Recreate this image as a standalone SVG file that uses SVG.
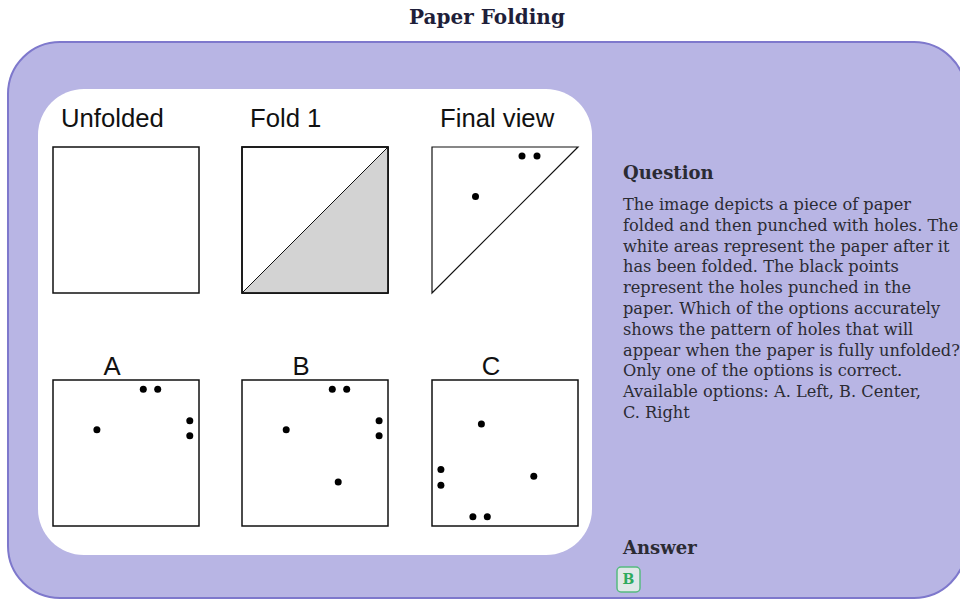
<svg xmlns="http://www.w3.org/2000/svg" width="960" height="600" viewBox="0 0 960 600">
<style>
.title{font-family:"DejaVu Serif",serif;font-weight:bold;font-size:20px;fill:#1f1f3a}
.h{font-family:"DejaVu Serif",serif;font-weight:bold;font-size:18px;fill:#2b2b33}
.body{font-family:"DejaVu Serif",serif;font-size:16.2px;fill:#2b2b33}
.lbl{font-family:"Liberation Sans",Arial,sans-serif;font-size:25.7px;fill:#111}
.box{fill:#fff;stroke:#111;stroke-width:1.5}
.dot{fill:#000}
</style>
<rect width="960" height="600" fill="#fff"/>
<text class="title" x="487" y="24" text-anchor="middle">Paper Folding</text>
<g id="panel">
<rect x="8" y="42" width="958" height="556" rx="52" ry="52" fill="#b8b5e4" stroke="#7e78cc" stroke-width="2"/>
</g>
<g id="figure">
<rect x="38" y="89" width="554" height="466" rx="46" ry="46" fill="#fff"/>
<g id="unfolded">
<text class="lbl" x="61" y="127">Unfolded</text>
<rect class="box" x="53" y="147" width="146" height="146"/>
</g>
<g id="fold1">
<text class="lbl" x="250" y="127">Fold 1</text>
<rect class="box" x="242" y="147" width="146" height="146"/>
<polygon points="242,293 388,147 388,293" fill="#d3d3d3" stroke="#111" stroke-width="1"/>
<rect x="242" y="147" width="146" height="146" fill="none" stroke="#111" stroke-width="1.5"/>
</g>
<g id="final">
<text class="lbl" x="440" y="127">Final view</text>
<polygon points="432,147 578,147 432,293" fill="#fff" stroke="#111" stroke-width="1.2"/>
<circle class="dot" cx="522" cy="156" r="3.5"/>
<circle class="dot" cx="537" cy="156" r="3.5"/>
<circle class="dot" cx="475.5" cy="196.5" r="3.5"/>
</g>
<g id="optA">
<text class="lbl" x="112" y="375" text-anchor="middle">A</text>
<rect class="box" x="53" y="380" width="146" height="146"/>
<circle class="dot" cx="143.3" cy="389.3" r="3.5"/>
<circle class="dot" cx="157.7" cy="389.3" r="3.5"/>
<circle class="dot" cx="96.9" cy="429.8" r="3.5"/>
<circle class="dot" cx="189.8" cy="420.8" r="3.5"/>
<circle class="dot" cx="189.8" cy="435.7" r="3.5"/>
</g>
<g id="optB">
<text class="lbl" x="301" y="375" text-anchor="middle">B</text>
<rect class="box" x="242" y="380" width="146" height="146"/>
<circle class="dot" cx="332.3" cy="389.3" r="3.5"/>
<circle class="dot" cx="346.7" cy="389.3" r="3.5"/>
<circle class="dot" cx="286.2" cy="429.8" r="3.5"/>
<circle class="dot" cx="379.1" cy="420.8" r="3.5"/>
<circle class="dot" cx="379.1" cy="435.7" r="3.5"/>
<circle class="dot" cx="338.2" cy="482.1" r="3.5"/>
</g>
<g id="optC">
<text class="lbl" x="491" y="375" text-anchor="middle">C</text>
<rect class="box" x="432" y="380" width="146" height="146"/>
<circle class="dot" cx="481.4" cy="424" r="3.5"/>
<circle class="dot" cx="440.9" cy="469.6" r="3.5"/>
<circle class="dot" cx="440.9" cy="485.2" r="3.5"/>
<circle class="dot" cx="533.8" cy="476.2" r="3.5"/>
<circle class="dot" cx="472.9" cy="516.7" r="3.5"/>
<circle class="dot" cx="487.3" cy="516.7" r="3.5"/>
</g>
</g>
<g id="question">
<text class="h" x="623" y="179">Question</text>
<text class="body">
<tspan x="623" y="210">The image depicts a piece of paper</tspan>
<tspan x="623" y="231">folded and then punched with holes. The</tspan>
<tspan x="623" y="252">white areas represent the paper after it</tspan>
<tspan x="623" y="272">has been folded. The black points</tspan>
<tspan x="623" y="293">represent the holes punched in the</tspan>
<tspan x="623" y="314">paper. Which of the options accurately</tspan>
<tspan x="623" y="335">shows the pattern of holes that will</tspan>
<tspan x="623" y="356">appear when the paper is fully unfolded?</tspan>
<tspan x="623" y="376">Only one of the options is correct.</tspan>
<tspan x="623" y="397">Available options: A. Left, B. Center,</tspan>
<tspan x="623" y="418">C. Right</tspan>
</text>
</g>
<g id="answer">
<text class="h" x="623" y="554">Answer</text>
<rect x="617" y="567" width="23" height="25" rx="4" fill="#e0e8e8" stroke="#55bb80" stroke-width="1.5"/>
<text x="628.5" y="584" text-anchor="middle" font-family="DejaVu Serif,serif" font-weight="bold" font-size="14" fill="#2eaa5e">B</text>
</g>
</svg>
